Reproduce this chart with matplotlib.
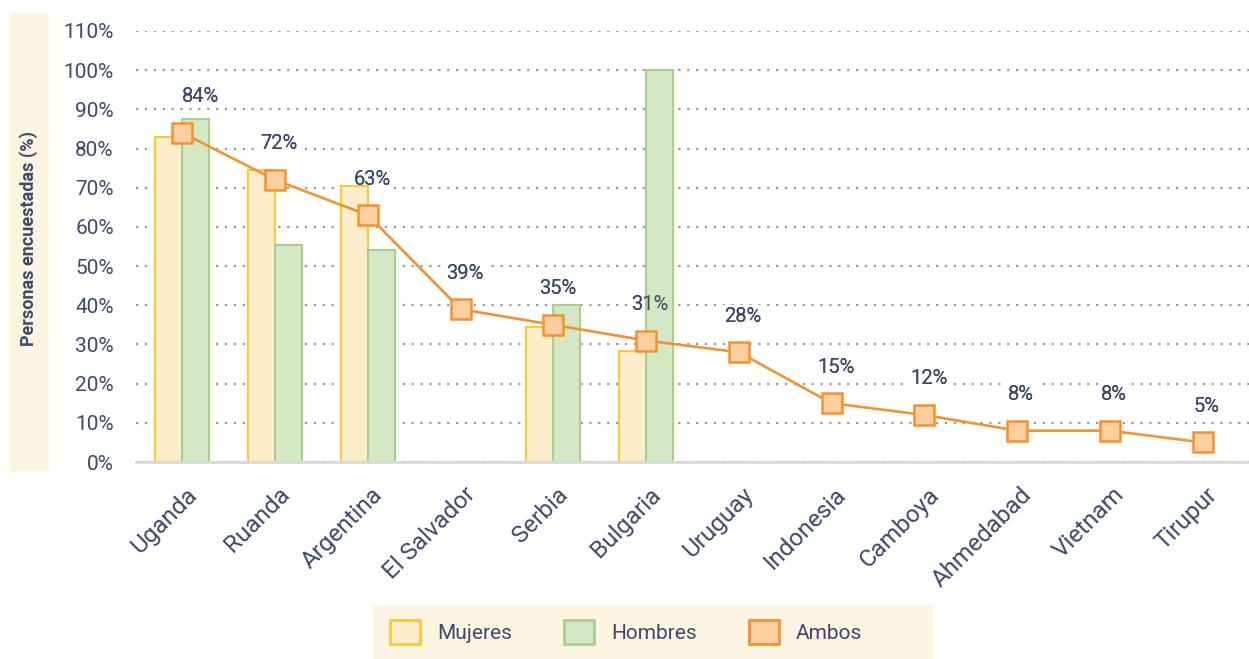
import numpy as np
import matplotlib.pyplot as plt
import matplotlib.transforms as mtransforms
from matplotlib.patches import Rectangle, Patch

plt.rcParams['font.family'] = ['Roboto', 'DejaVu Sans']

paises = ["Uganda", "Ruanda", "Argentina", "El Salvador", "Serbia", "Bulgaria",
          "Uruguay", "Indonesia", "Camboya", "Ahmedabad", "Vietnam", "Tirupur"]
mujeres = [83, 74.5, 70.5, np.nan, 34.5, 28.3, np.nan, np.nan, np.nan, np.nan, np.nan, np.nan]
hombres = [87.5, 55.5, 54, np.nan, 40, 100, np.nan, np.nan, np.nan, np.nan, np.nan, np.nan]
ambos = [84, 72, 63, 39, 35, 31, 28, 15, 12, 8, 8, 5]

navy = "#3b4a6b"
beige = "#fdf5e2"

fig = plt.figure(figsize=(12.49, 6.59), dpi=100)
ax = fig.add_axes([136/1249, 1 - 462/659, 1 - 136/1249, (462 - 31)/659])

x = np.arange(len(paises))
w = 0.29

ax.bar(x - w/2, mujeres, w, color="#fdeecb", edgecolor="#fcc935", linewidth=1.5, zorder=2)
ax.bar(x + w/2, hombres, w, color="#d4e8c6", edgecolor="#a8d08d", linewidth=1.5, zorder=2)
ax.plot(x, ambos, color="#f5922f", lw=1.9, marker="s", markersize=14.5,
        markerfacecolor="#fccf9f", markeredgecolor="#f5922f", markeredgewidth=1.8, zorder=3)

# etiquetas de valor (fondo blanco detras de las barras, texto encima)
for i, v in enumerate(ambos):
    dx = 13 if i == 0 else 3
    for z, bb in ((1, dict(boxstyle="square,pad=0.1", fc="white", ec="none")), (4, None)):
        ax.annotate(f"{v}%", (x[i], v), xytext=(dx, 26), textcoords="offset points",
                    ha="center", va="center", fontsize=14.5, color=navy,
                    bbox=bb, zorder=z)

ax.set_xlim(-0.5, 11.5)
ax.set_ylim(0, 110)
ax.set_yticks(np.arange(0, 111, 10))
ax.set_yticklabels([f"{t}%" for t in range(0, 111, 10)])
ax.yaxis.grid(True, linestyle=(0, (1, 3)), color="#9a9a9a", linewidth=1.6, zorder=0)
ax.set_axisbelow(True)
for s in ["top", "right", "left"]:
    ax.spines[s].set_visible(False)
ax.spines["bottom"].set_color("#d9d9d9")
ax.spines["bottom"].set_linewidth(2)
ax.tick_params(axis="y", length=0, pad=16, labelsize=15, labelcolor=navy)
ax.tick_params(axis="x", length=0, pad=21, labelsize=17.5, labelcolor=navy)

ax.set_xticks(x)
ax.set_xticklabels(paises, rotation=45, ha="right", va="center", rotation_mode="anchor")
off = mtransforms.ScaledTranslation(0.11, 0, fig.dpi_scale_trans)
for lab in ax.get_xticklabels():
    lab.set_transform(lab.get_transform() + off)

# banda del eje y
fig.patches.append(Rectangle((10/1249, 1 - 470/659), 38/1249, 457/659,
                             transform=fig.transFigure, color=beige, zorder=0))
fig.text(29/1249, 1 - 239/659, "Personas encuestadas (%)", rotation=90, ha="center",
         va="center", fontsize=13, fontweight="bold", color=navy)

# leyenda
fig.patches.append(Rectangle((373/1249, 0), (932 - 373)/1249, 54/659,
                             transform=fig.transFigure, color=beige, zorder=0))
handles = [Patch(facecolor="#fdeecb", edgecolor="#fcc935", linewidth=2),
           Patch(facecolor="#d4e8c6", edgecolor="#a8d08d", linewidth=2),
           Patch(facecolor="#fccf9f", edgecolor="#f5922f", linewidth=2)]
fig.legend(handles, ["Mujeres", "Hombres", "Ambos"], loc="center",
           bbox_to_anchor=(626/1249, 27/659), ncol=3, frameon=False,
           handlelength=1.45, handleheight=1.45, handletextpad=0.8, columnspacing=2.5,
           labelcolor=navy, prop=dict(size=15))

fig.savefig("out.png", dpi=100)
